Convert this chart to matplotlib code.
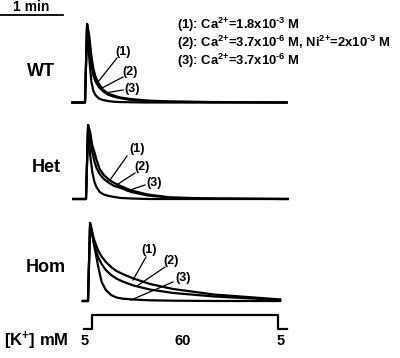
"""
Normalised K+-evoked responses for WT / Het / Hom under three bath conditions.
"""
import matplotlib.pyplot as plt
from matplotlib import transforms

plt.rcParams['font.family'] = 'Liberation Sans'
plt.rcParams['font.weight'] = 'bold'
plt.rcParams['mathtext.fontset'] = 'custom'
plt.rcParams['mathtext.rm'] = 'Liberation Sans:bold'
plt.rcParams['mathtext.bf'] = 'Liberation Sans:bold'
plt.rcParams['mathtext.default'] = 'rm'

W, H = 400, 358
PX_PER_S = 63 / 60.0   # 1 min scale bar is 63 px

# time (s) relative to the K+ step, amplitude normalised to peak
t_wt = [-12, 0, 2, 4, 6, 8, 10, 13, 17, 22, 27, 33, 43, 59, 81, 120, 192]
wt1 = [0, 0, 1.0, 0.85, 0.60, 0.43, 0.33, 0.24, 0.165, 0.115, 0.09, 0.065, 0.045, 0.025, 0.013, 0.006, 0]
wt2 = [0, 0, 1.0, 0.80, 0.49, 0.34, 0.27, 0.20, 0.146, 0.10, 0.076, 0.057, 0.034, 0.019, 0.009, 0.004, 0]
wt3 = [0, 0, 1.0, 0.57, 0.27, 0.146, 0.095, 0.053, 0.032, 0.019, 0.010, 0.006, 0.003, 0, 0, 0, 0]

t_het = [-12, 0, 2, 4, 6, 8, 10, 13, 17, 22, 27, 33, 43, 59, 81, 120, 192]
het1 = [0, 0, 1.0, 0.90, 0.72, 0.635, 0.53, 0.405, 0.325, 0.257, 0.216, 0.175, 0.115, 0.06, 0.02, 0.007, 0]
het2 = [0, 0, 1.0, 0.86, 0.635, 0.51, 0.42, 0.34, 0.27, 0.216, 0.175, 0.15, 0.095, 0.047, 0.018, 0.005, 0]
het3 = [0, 0, 1.0, 0.59, 0.365, 0.23, 0.16, 0.095, 0.06, 0.04, 0.027, 0.014, 0.007, 0, 0, 0, 0]

t_hom = [-5, 0, 2, 4, 6, 8, 10, 13, 17, 22, 27, 33, 43, 59, 81, 120, 183]
hom1 = [0, 0, 1.0, 0.885, 0.78, 0.705, 0.64, 0.57, 0.50, 0.436, 0.385, 0.346, 0.29, 0.218, 0.154, 0.083, 0.02]
hom2 = [0, 0, 1.0, 0.846, 0.718, 0.628, 0.551, 0.474, 0.397, 0.333, 0.288, 0.25, 0.20, 0.147, 0.103, 0.058, 0.013]
hom3 = [0, 0, 1.0, 0.87, 0.705, 0.564, 0.423, 0.244, 0.14, 0.077, 0.045, 0.03, 0.019, 0.009, 0.004, 0, 0]

# K+ protocol
k_t = [-8, 0, 177, 186]
k_mM = [5, 60, 5, 5]
k_labels = ['5', '60', '5']
k_label_t = [-7, 86, 180]

conditions = [
    r'(1): Ca$^{\text{2+}}$=1.8x10$^{\text{-3}}$ M',
    r'(2): Ca$^{\text{2+}}$=3.7x10$^{\text{-6}}$ M, Ni$^{\text{2+}}$=2x10$^{\text{-3}}$ M',
    r'(3): Ca$^{\text{2+}}$=3.7x10$^{\text{-6}}$ M',
]


def panel_axes(fig, step_x, y_low, y_high, ylim):
    ax = fig.add_axes([0, 1 - y_low / H, 1, (y_low - y_high) / H])
    ax.set_xlim(-step_x / PX_PER_S, (W - step_x) / PX_PER_S)
    ax.set_ylim(*ylim)
    ax.axis('off')
    return ax


fig = plt.figure(figsize=(4.0, 3.58), dpi=100)
ax_txt = fig.add_axes([0, 0, 1, 1])
ax_txt.set_xlim(0, W)
ax_txt.set_ylim(H, 0)
ax_txt.axis('off')

lw = 1.6
panels = [
    ('WT', 85, 102.5, 24, t_wt, [wt1, wt2, wt3], 41, 72),
    ('Het', 86, 199, 125, t_het, [het1, het2, het3], 46, 167),
    ('Hom', 88, 301, 223, t_hom, [hom1, hom2, hom3], 46, 267),
]
for name, step_x, base_y, peak_y, t, curves, label_x, label_y in panels:
    ax = panel_axes(fig, step_x, base_y, peak_y, (0, 1))
    for c in curves:
        ax.plot(t, c, color='black', lw=lw, solid_joinstyle='round', clip_on=False)
    ax_txt.text(label_x, label_y, name, fontsize=13, ha='center', va='center')

# leader lines: (label x, label y, line start, line end) in figure pixels
leaders = [
    (123.5, 52, (117, 58), (98, 82)),
    (130.5, 72, (123, 77), (102, 88)),
    (132.5, 89, (123, 90), (105, 93)),
    (137.5, 149, (127, 156), (110, 180)),
    (142.5, 167, (135, 173), (115, 186)),
    (154.5, 183, (145, 185), (127, 191)),
    (149, 250, (146, 257), (133, 280)),
    (171, 261, (165, 267), (137, 286)),
    (183, 278, (173, 282), (131, 300)),
]
for i, (lx, ly, p0, p1) in enumerate(leaders):
    ax_txt.text(lx, ly, '(%d)' % (i % 3 + 1), fontsize=9, ha='center', va='center')
    ax_txt.plot([p0[0], p1[0]], [p0[1], p1[1]], color='black', lw=0.9)

# condition key
for i, s in enumerate(conditions):
    ax_txt.text(177, [28.5, 47, 65][i], s, fontsize=9.4, ha='left', va='baseline')

# scale bar
ax_txt.plot([0, 60 * PX_PER_S], [15, 15], color='black', lw=1.3)
ax_txt.text(31, 7, '1 min', fontsize=10, ha='center', va='center')

# K+ protocol
ax_k = panel_axes(fig, 92, 329, 315, (5, 60))
ax_k.step(k_t, k_mM, where='post', color='black', lw=lw, clip_on=False)
lab_tr = transforms.blended_transform_factory(ax_k.transData, ax_txt.transData)
for tx, s in zip(k_label_t, k_labels):
    ax_k.text(tx, 341, s, transform=lab_tr, fontsize=10.5, ha='center', va='center')
ax_txt.text(4, 341, '[K$^{\\text{+}}$] mM', fontsize=12, ha='left', va='center')

fig.savefig('out.png', dpi=100)
